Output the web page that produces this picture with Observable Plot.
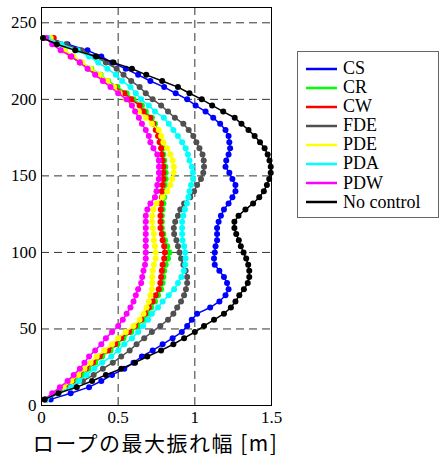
<!DOCTYPE html>
<html><head><meta charset="utf-8">
<script src="https://cdn.jsdelivr.net/npm/d3@7"></script>
<script src="https://cdn.jsdelivr.net/npm/@observablehq/plot@0.6"></script>
<style>
body{margin:0;background:#fff;}
#wrap{position:relative;width:439px;height:457px;overflow:hidden;}
#title{position:absolute;left:0;width:311px;top:430px;text-align:center;font-family:"Noto Sans CJK JP";font-size:21px;letter-spacing:1.5px;line-height:24px;color:#000;white-space:nowrap;}
#legend{position:absolute;left:297px;top:51px;width:142px;height:167px;border:1px solid #666;box-sizing:border-box;font-family:"Liberation Serif","Times New Roman",Times,"DejaVu Serif",serif;font-size:18px;line-height:17px;color:#000;}
.row{position:absolute;left:8px;height:17px;display:flex;align-items:center;white-space:nowrap;}
.row svg{margin-right:6px;}
</style></head>
<body><div id="wrap"><div id="title">ロープの最大振れ幅 [m]</div><div id="legend"></div></div>
<script>
const seriesNames = ["CS","CR","CW","FDE","PDE","PDA","PDW","No control"];
const seriesColors = ["#0000ff","#00ff00","#ff0000","#505050","#ffff00","#00ffff","#ff00ff","#000000"];
const heights = [4,8,12,16,20,24,28,32,36,40,44,48,52,56,60,64,68,72,76,80,84,88,92,96,100,104,108,112,116,120,124,128,132,136,140,144,148,152,156,160,164,168,172,176,180,184,188,192,196,200,204,208,212,216,220,224,228,232,236,240];
const xTicks = [0,0.5,1,1.5];
const yTicks = [0,50,100,150,200,250];

const CS = [0.06,0.19,0.31,0.39,0.46,0.54,0.60,0.655,0.725,0.79, 0.855,0.915,0.95,0.98,1.015,1.10,1.16,1.20,1.22,1.21, 1.19,1.16,1.13,1.125,1.13,1.135,1.145,1.145,1.145,1.155, 1.17,1.19,1.22,1.245,1.265,1.265,1.245,1.225,1.20,1.205, 1.22,1.23,1.225,1.22,1.20,1.165,1.12,1.07,1.005,0.95, 0.875,0.80,0.71,0.63,0.55,0.46,0.39,0.30,0.17,0.05];
const CR = [0.03,0.105,0.165,0.215,0.26,0.305,0.35,0.395,0.45,0.495, 0.535,0.585,0.625,0.665,0.69,0.715,0.74,0.76,0.78,0.79, 0.795,0.80,0.81,0.825,0.835,0.82,0.805,0.795,0.785,0.785, 0.785,0.79,0.795,0.80,0.80,0.805,0.81,0.81,0.808,0.80, 0.795,0.79,0.78,0.77,0.755,0.74,0.72,0.68,0.655,0.60, 0.555,0.495,0.435,0.385,0.325,0.265,0.205,0.15,0.115,0.075];
const CW = [0.03,0.10,0.155,0.20,0.245,0.29,0.335,0.38,0.435,0.48, 0.52,0.57,0.61,0.65,0.675,0.70,0.725,0.745,0.765,0.775, 0.78,0.785,0.79,0.80,0.805,0.80,0.79,0.785,0.776,0.776, 0.776,0.778,0.78,0.785,0.785,0.79,0.795,0.795,0.795,0.79, 0.785,0.78,0.77,0.76,0.745,0.73,0.71,0.665,0.64,0.585, 0.54,0.48,0.42,0.37,0.31,0.25,0.19,0.14,0.11,0.08];
const FDE = [0.03,0.11,0.19,0.27,0.34,0.40,0.465,0.52,0.575,0.62, 0.67,0.72,0.775,0.825,0.86,0.885,0.91,0.93,0.942,0.95, 0.95,0.94,0.925,0.91,0.90,0.89,0.88,0.865,0.863,0.872, 0.89,0.905,0.93,0.97,0.995,1.015,1.04,1.055,1.06,1.058, 1.05,1.03,1.01,0.99,0.96,0.925,0.87,0.825,0.78,0.725, 0.68,0.64,0.585,0.535,0.49,0.42,0.35,0.26,0.16,0.05];
const PDE = [0.03,0.09,0.145,0.195,0.24,0.28,0.32,0.36,0.41,0.46, 0.50,0.55,0.60,0.64,0.665,0.685,0.70,0.71,0.72,0.722, 0.722,0.725,0.733,0.744,0.744,0.74,0.733,0.733,0.725,0.722, 0.722,0.73,0.75,0.79,0.82,0.84,0.852,0.862,0.863,0.855, 0.84,0.82,0.795,0.78,0.765,0.72,0.68,0.635,0.59,0.55, 0.51,0.475,0.43,0.38,0.32,0.265,0.21,0.15,0.11,0.06];
const PDA = [0.03,0.11,0.19,0.245,0.295,0.345,0.395,0.455,0.50,0.54, 0.59,0.63,0.662,0.695,0.72,0.76,0.79,0.83,0.865,0.89, 0.912,0.928,0.937,0.94,0.937,0.93,0.92,0.917,0.917,0.917, 0.925,0.935,0.948,0.958,0.965,0.975,0.988,0.988,0.98,0.965, 0.955,0.94,0.917,0.89,0.86,0.83,0.798,0.74,0.70,0.65, 0.615,0.58,0.526,0.485,0.43,0.37,0.31,0.235,0.13,0.04];
const PDW = [0.02,0.07,0.12,0.17,0.21,0.25,0.28,0.31,0.35,0.39, 0.42,0.46,0.50,0.53,0.555,0.58,0.60,0.615,0.63,0.65, 0.657,0.665,0.675,0.68,0.68,0.68,0.68,0.68,0.68,0.68, 0.68,0.69,0.71,0.74,0.75,0.755,0.765,0.766,0.766,0.765, 0.755,0.73,0.71,0.70,0.68,0.655,0.635,0.61,0.59,0.555, 0.50,0.45,0.40,0.35,0.30,0.25,0.195,0.125,0.07,0.03];
const NoControl = [0.02,0.11,0.23,0.33,0.42,0.52,0.61,0.69,0.78,0.86, 0.93,1.00,1.06,1.125,1.19,1.235,1.265,1.29,1.32,1.345, 1.355,1.355,1.348,1.335,1.318,1.30,1.287,1.27,1.258,1.258, 1.285,1.33,1.38,1.42,1.45,1.47,1.485,1.495,1.495,1.487, 1.475,1.455,1.425,1.39,1.35,1.304,1.26,1.185,1.113,1.045, 0.965,0.89,0.787,0.683,0.59,0.47,0.357,0.22,0.10,0.01];

const seriesValues = [CS, CR, CW, FDE, PDE, PDA, PDW, NoControl];

const marks = [
  Plot.gridX([0.5,1], {stroke:"#333", strokeOpacity:1, strokeWidth:1, strokeDasharray:"8,5"}),
  Plot.gridY([50,100,150,200,250], {stroke:"#333", strokeOpacity:1, strokeWidth:1, strokeDasharray:"8,5"})
];
seriesValues.forEach((vals, i) => {
  const rows = vals.map((v, j) => ({x: v, y: heights[j]}));
  marks.push(Plot.line(rows, {x:"x", y:"y", stroke: seriesColors[i], strokeWidth:1.5}));
  marks.push(Plot.dot(rows, {x:"x", y:"y", fill: seriesColors[i], r:3}));
});
marks.push(Plot.frame({stroke:"#000", strokeWidth:1}));
marks.push(Plot.axisX(xTicks, {tickSize:0, tickPadding:5, label:null, tickFormat: d => String(d)}));
marks.push(Plot.axisY(yTicks, {tickSize:0, tickPadding:5, label:null}));

const chart = Plot.plot({
  width: 439, height: 430,
  marginLeft: 41, marginRight: 168, marginTop: 7, marginBottom: 25,
  x: {domain:[0,1.5]},
  y: {domain:[0,260]},
  style: {fontFamily:"'Liberation Serif','Times New Roman',Times,'DejaVu Serif',serif", fontSize:"17px", color:"#000", background:"#fff", overflow:"visible"},
  marks
});
const wrap = document.getElementById("wrap");
wrap.insertBefore(chart, wrap.firstChild);

const legend = document.getElementById("legend");
seriesNames.forEach((name, i) => {
  const row = document.createElement("div");
  row.className = "row";
  row.style.top = (8.2 + 19.05 * i) + "px";
  row.innerHTML = `<svg width="31" height="4"><line x1="0" x2="31" y1="2" y2="2" stroke="${seriesColors[i]}" stroke-width="2.5"/></svg><span>${name}</span>`;
  legend.appendChild(row);
});
</script></body></html>
